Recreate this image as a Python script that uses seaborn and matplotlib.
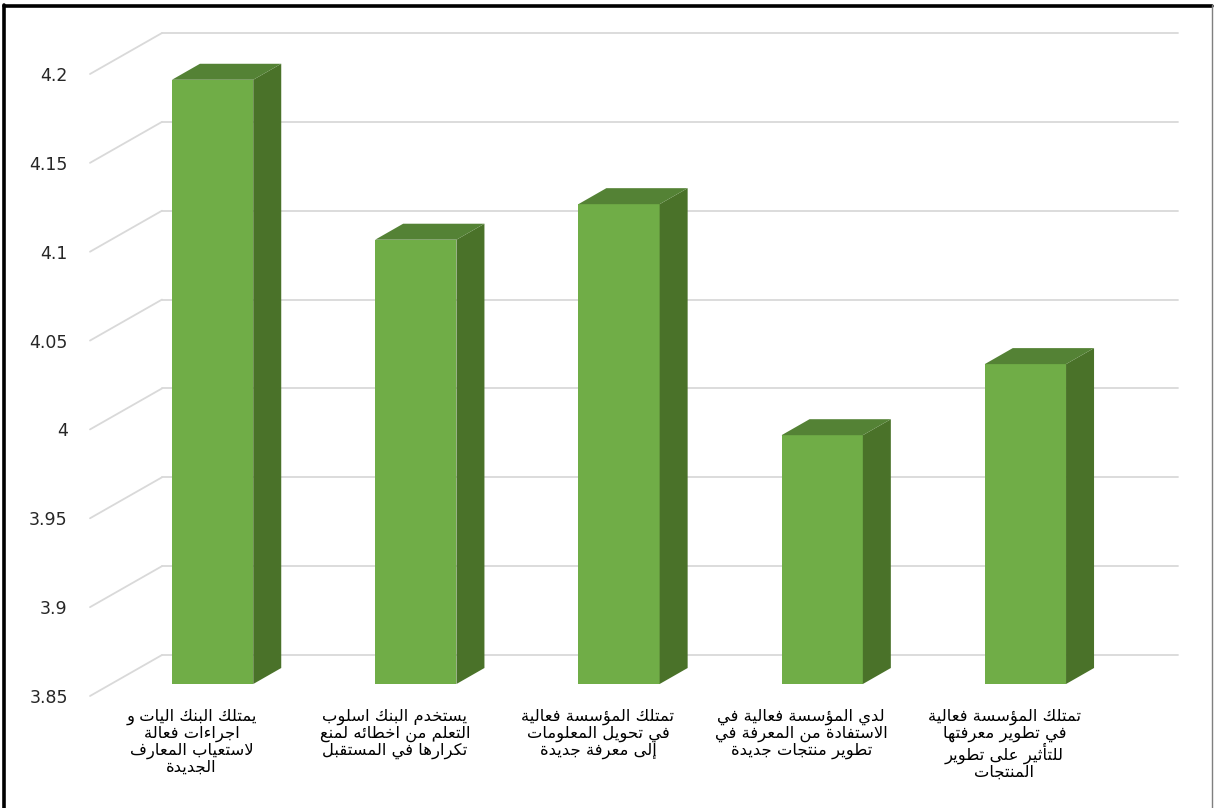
import numpy as np
import pandas as pd
import matplotlib
matplotlib.use("Agg")
import matplotlib.pyplot as plt
import matplotlib.transforms as mtransforms
from matplotlib.patches import Polygon
from matplotlib.lines import Line2D
import seaborn as sns

# ---------------------------------------------------------------- data
categories = [
    "يمتلك البنك اليات و\nاجراءات فعالة\nلاستعياب المعارف\nالجديدة",
    "يستخدم البنك اسلوب\nالتعلم من اخطائه لمنع\nتكرارها في المستقبل",
    "تمتلك المؤسسة فعالية\nفي تحويل المعلومات\nإلى معرفة جديدة",
    "لدي المؤسسة فعالية في\nالاستفادة من المعرفة في\nتطوير منتجات جديدة",
    "تمتلك المؤسسة فعالية\nفي تطوير معرفتها\nللتأثير على تطوير\nالمنتجات",
]
means = [4.19, 4.10, 4.12, 3.99, 4.03]
y_ticks = [3.85, 3.9, 3.95, 4.0, 4.05, 4.1, 4.15, 4.2]
y_tick_labels = ["3.85", "3.9", "3.95", "4", "4.05", "4.1", "4.15", "4.2"]

# ---------------------------------------------------------------- style
FRONT = "#70AD47"
SIDE = "#4A7229"
TOP = "#548235"
GRID = "#D9D9D9"

# ------------------------------------------------- Arabic contextual shaping
# matplotlib lays text out left-to-right without joining, so each line is
# converted to presentation forms and put in visual order.
_FORMS = {}
for ch, base in [("ا", 0xFE8D), ("أ", 0xFE83), ("إ", 0xFE87), ("آ", 0xFE81),
                 ("ؤ", 0xFE85), ("ة", 0xFE93), ("د", 0xFEA9), ("ذ", 0xFEAB),
                 ("ر", 0xFEAD), ("ز", 0xFEAF), ("و", 0xFEED), ("ى", 0xFEEF)]:
    _FORMS[ch] = (base, base + 1, None, None)
for ch, base in [("ئ", 0xFE89), ("ب", 0xFE8F), ("ت", 0xFE95), ("ث", 0xFE99),
                 ("ج", 0xFE9D), ("ح", 0xFEA1), ("خ", 0xFEA5), ("س", 0xFEB1),
                 ("ش", 0xFEB5), ("ص", 0xFEB9), ("ض", 0xFEBD), ("ط", 0xFEC1),
                 ("ظ", 0xFEC5), ("ع", 0xFEC9), ("غ", 0xFECD), ("ف", 0xFED1),
                 ("ق", 0xFED5), ("ك", 0xFED9), ("ل", 0xFEDD), ("م", 0xFEE1),
                 ("ن", 0xFEE5), ("ه", 0xFEE9), ("ي", 0xFEF1)]:
    _FORMS[ch] = (base, base + 1, base + 2, base + 3)
_FORMS["ء"] = (0xFE80, None, None, None)
_LAM_ALEF = {"ا": (0xFEFB, 0xFEFC), "أ": (0xFEF7, 0xFEF8),
             "إ": (0xFEF9, 0xFEFA), "آ": (0xFEF5, 0xFEF6)}


def _joins_next(c):
    f = _FORMS.get(c)
    return f is not None and f[2] is not None


def _joins_prev(c):
    f = _FORMS.get(c)
    return f is not None and f[1] is not None


def shape_line(s):
    out = []
    i, n = 0, len(s)
    while i < n:
        c = s[i]
        if c not in _FORMS:
            out.append(c)
            i += 1
            continue
        prev = s[i - 1] if i > 0 else None
        link_prev = prev is not None and _joins_next(prev) and _joins_prev(c)
        if c == "ل" and i + 1 < n and s[i + 1] in _LAM_ALEF:
            iso, fin = _LAM_ALEF[s[i + 1]]
            out.append(chr(fin if link_prev else iso))
            i += 2
            continue
        nxt = s[i + 1] if i + 1 < n else None
        link_next = _joins_next(c) and nxt is not None and _joins_prev(nxt)
        iso, fin, ini, med = _FORMS[c]
        if link_prev and link_next:
            code = med
        elif link_prev:
            code = fin
        elif link_next:
            code = ini
        else:
            code = iso
        out.append(chr(code))
        i += 1
    return "".join(reversed(out))


def shape(text):
    return "\n".join(shape_line(line) for line in text.split("\n"))


# ---------------------------------------------------------------- figure
sns.set_style("white")
plt.rcParams["font.family"] = ["DejaVu Sans"]

W, H, DPI = 1214, 808, 100
fig = plt.figure(figsize=(W / DPI, H / DPI), dpi=DPI)
fig.patch.set_facecolor("white")

# axes = front plane of the oblique 3-D box
ax = fig.add_axes([90 / W, 112 / H, 1016 / W, 622 / H])
ax.set_facecolor("none")

df = pd.DataFrame({"item": [shape(c) for c in categories], "mean": means})
sns.barplot(data=df, x="item", y="mean", color=FRONT, saturation=1,
            width=0.4, ax=ax, zorder=3, linewidth=0)

YMIN, YMAX = y_ticks[0], y_ticks[-1]
ax.set_xlim(-0.5, len(categories) - 0.5)
ax.set_ylim(YMIN, YMAX)
ax.set_xlabel("")
ax.set_ylabel("")
ax.grid(False)
sns.despine(ax=ax, left=True, bottom=True)


def px_to_data(dx_px, dy_px):
    """Convert a display offset in pixels to data-unit offsets."""
    origin = ax.transData.transform((0.0, YMIN))
    p = ax.transData.inverted().transform(origin + np.array([dx_px, dy_px]))
    return p[0], p[1] - YMIN


# back wall offset of the box and the depth of each bar
wall_dx, wall_dy = px_to_data(72, 41)
bar_dx, bar_dy = px_to_data(28, 16)
bar_shift = ax.transData + mtransforms.ScaledTranslation(21 / DPI, 12 / DPI,
                                                         fig.dpi_scale_trans)

# gridlines: diagonal on the left wall, horizontal on the back wall
x_lo, x_hi = ax.get_xlim()
for t in y_ticks:
    ax.add_line(Line2D([x_lo, x_lo + wall_dx], [t, t + wall_dy], color=GRID,
                       lw=1.3, zorder=0, clip_on=False))
    ax.add_line(Line2D([x_lo + wall_dx, x_hi + wall_dx], [t + wall_dy] * 2,
                       color=GRID, lw=1.3, zorder=0, clip_on=False))

# 3-D bars: front face from seaborn, side and top faces from its geometry
for patch, v in zip(ax.patches, means):
    patch.set_y(YMIN)
    patch.set_height(v - YMIN)
    patch.set_transform(bar_shift)
    patch.set_clip_on(False)
    x0 = patch.get_x()
    x1 = x0 + patch.get_width()
    side = Polygon([(x1, YMIN), (x1, v), (x1 + bar_dx, v + bar_dy),
                    (x1 + bar_dx, YMIN + bar_dy)], closed=True,
                   facecolor=SIDE, edgecolor="none", transform=bar_shift,
                   zorder=3, clip_on=False)
    top = Polygon([(x0, v), (x1, v), (x1 + bar_dx, v + bar_dy),
                   (x0 + bar_dx, v + bar_dy)], closed=True,
                  facecolor=TOP, edgecolor="none", transform=bar_shift,
                  zorder=3, clip_on=False)
    ax.add_patch(side)
    ax.add_patch(top)

ax.set_yticks(y_ticks, y_tick_labels)
ax.tick_params(axis="y", length=0, pad=16, labelsize=12.5, labelcolor="#262626")
ax.tick_params(axis="x", length=0, pad=9, labelsize=11.8, labelcolor="#000000")
for lab in ax.get_xticklabels():
    lab.set_linespacing(1.06)

# outer frame
fig.add_artist(Line2D([4 / W, 4 / W], [0, 1 - 5 / H], color="black", lw=2.6,
                      transform=fig.transFigure))
fig.add_artist(Line2D([4 / W, 1212 / W], [1 - 5.5 / H] * 2, color="black",
                      lw=2.6, transform=fig.transFigure))
fig.add_artist(Line2D([1212 / W] * 2, [0, 1 - 5 / H], color="#7F7F7F", lw=1,
                      transform=fig.transFigure))

fig.savefig("out.png", dpi=DPI, facecolor="white")
